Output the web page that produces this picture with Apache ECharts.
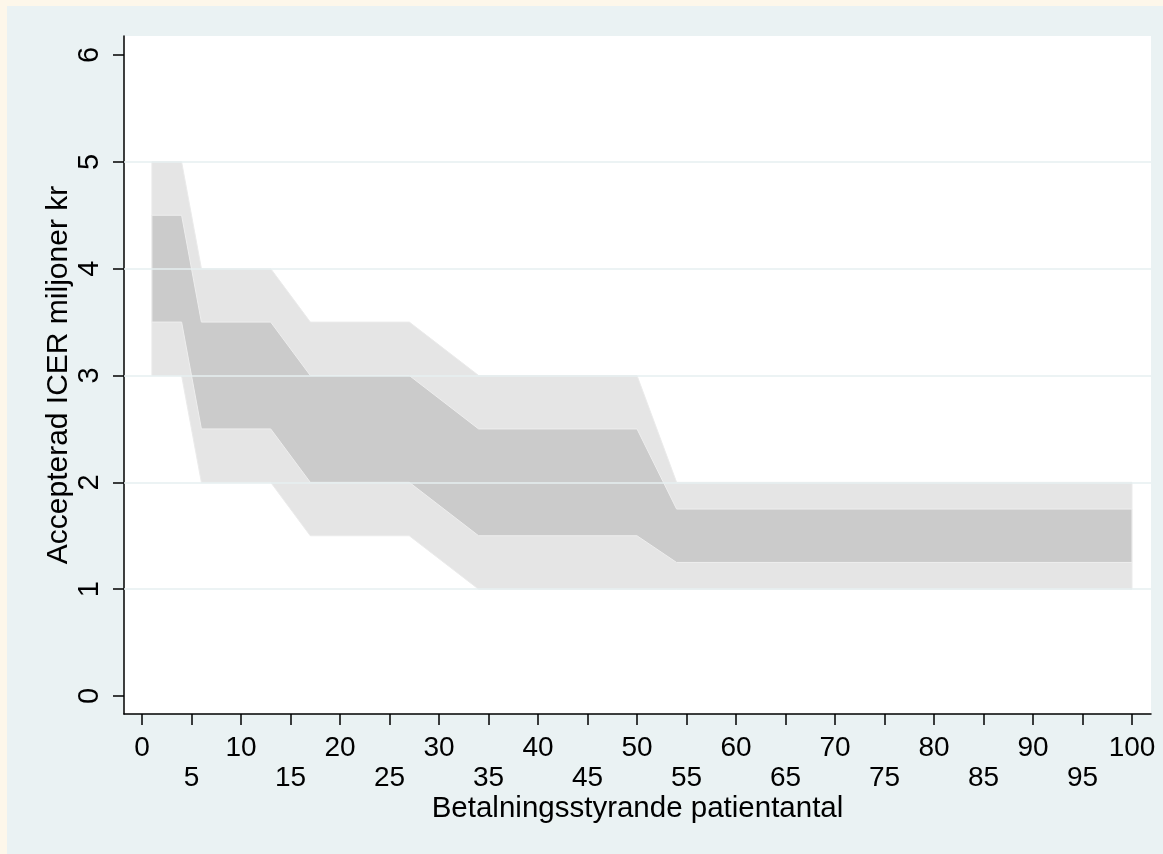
<!DOCTYPE html>
<html>
<head>
<meta charset="utf-8">
<script src="https://cdn.jsdelivr.net/npm/echarts@6/dist/echarts.min.js"></script>
<style>
  html, body { margin: 0; padding: 0; background: #fdf7ea; width: 1163px; height: 854px; overflow: hidden; }
  #chart { position: absolute; left: 7px; top: 6px; width: 1156px; height: 848px; background: #eaf2f3; }
</style>
</head>
<body>
<div id="chart"></div>
<script>
// Patient counts at band break points
const xs = [1, 4, 6, 13, 17, 27, 34, 50, 54, 100];
// Outer (light) band
const outerUpper = [5, 5, 4, 4, 3.5, 3.5, 3, 3, 2, 2];
const outerLower = [3, 3, 2, 2, 1.5, 1.5, 1, 1, 1, 1];
// Inner (dark) band
const innerUpper = [4.5, 4.5, 3.5, 3.5, 3, 3, 2.5, 2.5, 1.75, 1.75];
const innerLower = [3.5, 3.5, 2.5, 2.5, 2, 2, 1.5, 1.5, 1.25, 1.25];
// Ticks and gridlines
const xTicks = [0,5,10,15,20,25,30,35,40,45,50,55,60,65,70,75,80,85,90,95,100];
const yTicks = [0, 1, 2, 3, 4, 5, 6];
const yGrid = [1, 2, 3, 4, 5];

const xTitle = 'Betalningsstyrande patientantal';
const yTitle = 'Accepterad ICER miljoner kr';

const FONT = '"Liberation Sans", Arial, Helvetica, sans-serif';

function band(upper, lower, fill, stroke) {
  return {
    type: 'custom',
    coordinateSystem: 'cartesian2d',
    silent: true,
    data: [[0, 0]],
    renderItem: function (params, api) {
      const pts = [];
      for (let i = 0; i < xs.length; i++) pts.push(api.coord([xs[i], upper[i]]));
      for (let i = xs.length - 1; i >= 0; i--) pts.push(api.coord([xs[i], lower[i]]));
      return {
        type: 'polygon',
        shape: { points: pts },
        style: { fill: fill, stroke: stroke, lineWidth: 1 }
      };
    }
  };
}

const chart = echarts.init(document.getElementById('chart'), null, { renderer: 'canvas' });
chart.setOption({
  animation: false,
  backgroundColor: '#eaf2f3',
  textStyle: { fontFamily: FONT },
  grid: {
    left: 117, right: 12, top: 30, bottom: 140,
    show: true, backgroundColor: '#ffffff', borderWidth: 0
  },
  xAxis: {
    type: 'value',
    min: -1.818, max: 101.92,
    name: xTitle,
    nameLocation: 'middle',
    nameGap: 80,
    nameMoveOverlap: false,
    nameTextStyle: { fontSize: 29.5, color: '#000', fontFamily: FONT },
    axisLine: { show: true, onZero: false, lineStyle: { color: '#000', width: 1.5 } },
    axisTick: { show: true, customValues: xTicks, length: 11, lineStyle: { color: '#000', width: 1.5 } },
    axisLabel: {
      customValues: xTicks,
      color: '#000', fontSize: 28, fontFamily: FONT, margin: 19, lineHeight: 30,
      formatter: function (v) { return (v % 10 === 0) ? String(v) : '\n' + v; }
    },
    splitLine: { show: false }
  },
  yAxis: {
    type: 'value',
    min: -0.1685, max: 6.178,
    name: yTitle,
    nameLocation: 'middle',
    nameGap: 50,
    nameMoveOverlap: false,
    nameTextStyle: { fontSize: 30, color: '#000', fontFamily: FONT },
    axisLine: { show: true, onZero: false, lineStyle: { color: '#000', width: 1.5 } },
    axisTick: { show: true, customValues: yTicks, length: 11, lineStyle: { color: '#000', width: 1.5 } },
    axisLabel: {
      customValues: yTicks,
      rotate: 90,
      color: '#000', fontSize: 29, fontFamily: FONT, margin: 20
    },
    splitLine: { show: false }
  },
  series: [
    {
      type: 'line',
      data: [],
      silent: true,
      markLine: {
        silent: true,
        symbol: ['none', 'none'],
        label: { show: false },
        lineStyle: { color: '#e6eff1', width: 1.5, type: 'solid' },
        data: yGrid.map(function (v) { return { yAxis: v }; })
      },
      z: 1
    },
    Object.assign(band(outerUpper, outerLower, '#e5e5e5', '#ebebeb'), { z: 2 }),
    Object.assign(band(innerUpper, innerLower, '#cbcbcb', '#eeeeee'), { z: 3 })
  ]
});
</script>
</body>
</html>
